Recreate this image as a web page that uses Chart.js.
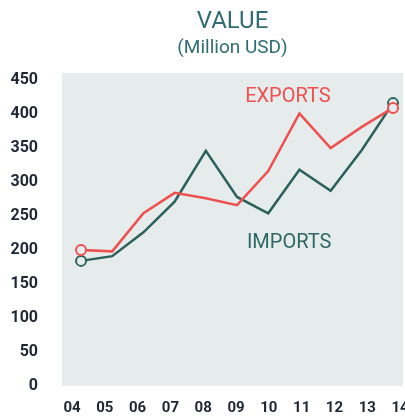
<!DOCTYPE html>
<html>
<head>
<meta charset="utf-8">
<script src="https://cdn.jsdelivr.net/npm/chart.js@4"></script>
<style>
  html, body { margin: 0; padding: 0; background: #fff; overflow: hidden; }
  #wrap { width: 410px; height: 419px; }
</style>
</head>
<body>
<div id="wrap"><canvas id="valueChart"></canvas></div>
<script>
// years shown on the x axis
const years = ['04', '05', '06', '07', '08', '09', '10', '11', '12', '13', '14'];
// values in million USD
const exportsValues = [200, 198, 254, 284, 276, 266, 316, 401, 350, 381, 409];
const importsValues = [184, 191, 226, 271, 346, 278, 254, 318, 287, 347, 416];
const yTicks = [0, 50, 100, 150, 200, 250, 300, 350, 400, 450];

const plotBg = '#e6ecec';
const red = '#ee4f4f';
const green = '#2c615b';

// only first and last points get a ring
const ring = ctx => (ctx.dataIndex === 0 || ctx.dataIndex === years.length - 1) ? 5 : 0;

const toPoints = arr => arr.map((v, i) => ({ x: i, y: v }));

// fill the plot area + write the series names
const decor = {
  id: 'decor',
  beforeDraw(chart) {
    const a = chart.chartArea;
    const c = chart.ctx;
    c.save();
    c.fillStyle = plotBg;
    c.fillRect(a.left, a.top, a.right - a.left, a.bottom - a.top);
    c.restore();
  },
  afterDatasetsDraw(chart) {
    const c = chart.ctx;
    const x = chart.scales.x, y = chart.scales.y;
    c.save();
    c.font = '20px Roboto';
    c.textAlign = 'center';
    c.textBaseline = 'middle';
    c.fillStyle = red;
    c.fillText('EXPORTS', x.getPixelForValue(6.63), y.getPixelForValue(425));
    c.fillStyle = '#2e6866';
    c.fillText('IMPORTS', x.getPixelForValue(6.67), y.getPixelForValue(210));
    c.restore();
  }
};

const ctx = document.getElementById('valueChart').getContext('2d');
const chart = new Chart(ctx, {
  type: 'line',
  data: {
    datasets: [{
      label: 'EXPORTS',
      data: toPoints(exportsValues),
      borderColor: red,
      borderWidth: 2.5,
      pointRadius: ring,
      pointBorderWidth: 2,
      pointBackgroundColor: plotBg,
      pointBorderColor: red,
      tension: 0
    }, {
      label: 'IMPORTS',
      data: toPoints(importsValues),
      borderColor: green,
      borderWidth: 2.5,
      pointRadius: ring,
      pointBorderWidth: 2,
      pointBackgroundColor: plotBg,
      pointBorderColor: green,
      tension: 0
    }]
  },
  options: {
    responsive: true,
    maintainAspectRatio: false,
    animation: false,
    layout: { padding: { left: 0, right: 0, top: 0, bottom: 0 } },
    plugins: {
      legend: { display: false },
      tooltip: { enabled: false },
      title: {
        display: true,
        text: 'VALUE',
        fullSize: false,
        color: '#2f6d72',
        font: { family: 'Roboto', size: 24, weight: 'normal' },
        padding: { top: 8, bottom: 0 }
      },
      subtitle: {
        display: true,
        text: '(Million USD)',
        fullSize: false,
        color: '#2f6d72',
        font: { family: 'Roboto', size: 19, weight: 'normal' },
        padding: { top: 0, bottom: 13.4 }
      }
    },
    scales: {
      // data axis (hidden)
      x: {
        type: 'linear',
        display: false,
        min: -0.61,
        max: 10.32
      },
      // label axis
      xl: {
        type: 'linear',
        position: 'bottom',
        min: -0.305,
        max: 10.09,
        grid: { display: false },
        border: { display: false },
        afterBuildTicks: axis => { axis.ticks = years.map((_, i) => ({ value: i })); },
        afterFit: axis => { axis.height = 33; axis.paddingLeft = 0; axis.paddingRight = 0; },
        ticks: {
          autoSkip: false,
          maxRotation: 0,
          padding: 5,
          color: '#1e2533',
          font: { family: 'Roboto', size: 15, weight: 'bold' },
          callback: v => years[v]
        }
      },
      y: {
        min: 0,
        max: 460.3,
        grid: { display: false },
        border: { display: false },
        afterBuildTicks: axis => { axis.ticks = yTicks.map(v => ({ value: v })); },
        afterFit: axis => { axis.width = 62; axis.paddingTop = 0; axis.paddingBottom = 0; },
        ticks: {
          padding: 16,
          color: '#1e2533',
          font: { family: 'Roboto', size: 16, weight: 'bold' }
        }
      }
    }
  },
  plugins: [decor]
});
</script>
</body>
</html>
